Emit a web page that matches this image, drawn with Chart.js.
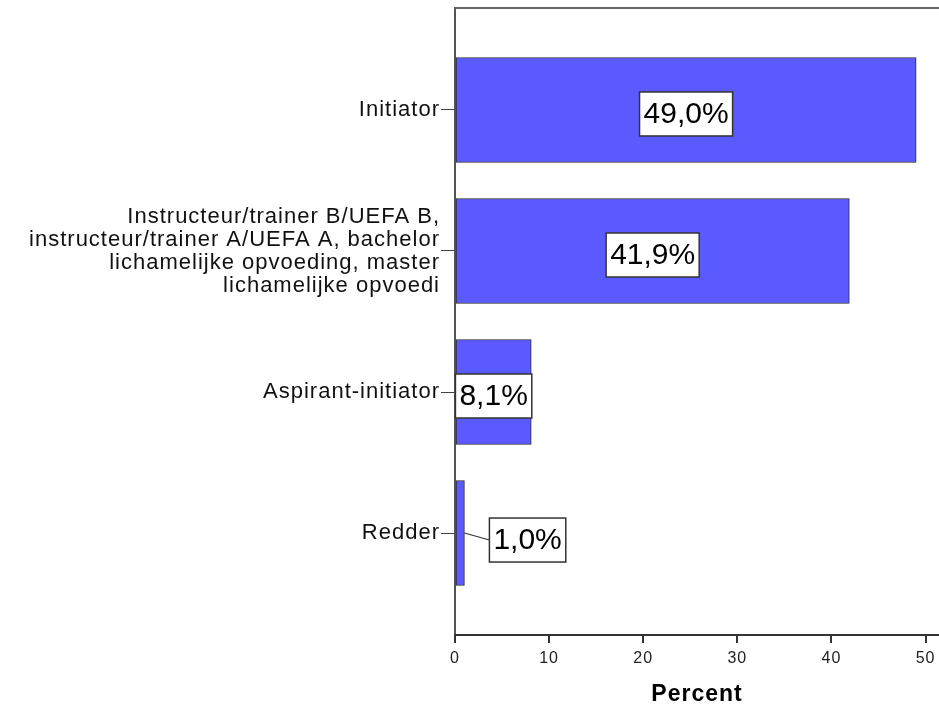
<!DOCTYPE html>
<html>
<head>
<meta charset="utf-8">
<script src="https://cdn.jsdelivr.net/npm/chart.js@4"></script>
<style>
  body { margin: 0; background: #fff; }
</style>
</head>
<body>
<canvas id="chart" width="939" height="705"></canvas>
<script>
// categories, top to bottom
const categories = [
  ["Initiator"],
  ["Instructeur/trainer B/UEFA B,", "instructeur/trainer A/UEFA A, bachelor", "lichamelijke opvoeding, master", "lichamelijke opvoedi"],
  ["Aspirant-initiator"],
  ["Redder"]
];
const percents = [49.0, 41.9, 8.1, 1.0];
const xTicks = [0, 10, 20, 30, 40, 50];

const FONT = "'Liberation Sans', Arial, sans-serif";

// SPSS text is a bit spaced out
const spacing = {
  id: "spacing",
  beforeDraw(chart) { chart.ctx.letterSpacing = "1px"; }
};

// white boxed value labels, like SPSS
const valueLabels = {
  id: "valueLabels",
  afterDatasetsDraw(chart) {
    const ctx = chart.ctx;
    const meta = chart.getDatasetMeta(0);
    ctx.save();
    ctx.letterSpacing = "0px";
    ctx.font = "30px " + FONT;
    ctx.textBaseline = "middle";
    ctx.textAlign = "center";
    meta.data.forEach((bar, i) => {
      const text = percents[i].toFixed(1).replace(".", ",") + "%";
      const w = ctx.measureText(text).width + 8;
      const h = 44;
      const barLen = bar.x - bar.base;
      let cx = (bar.x + bar.base) / 2;
      let cy = bar.y + 4;
      if (w > barLen + 4) {
        // does not fit: put it beside the bar with a leader line
        const left = bar.x + 25;
        cx = left + w / 2;
        cy = bar.y + 7;
        ctx.strokeStyle = "#333";
        ctx.lineWidth = 1.2;
        ctx.beginPath();
        ctx.moveTo(bar.x, bar.y);
        ctx.lineTo(left, cy);
        ctx.stroke();
      }
      ctx.fillStyle = "#fff";
      ctx.fillRect(cx - w / 2, cy - h / 2, w, h);
      ctx.strokeStyle = "#333";
      ctx.lineWidth = 1.5;
      ctx.strokeRect(cx - w / 2, cy - h / 2, w, h);
      ctx.fillStyle = "#000";
      ctx.fillText(text, cx, cy + 1);
    });
    ctx.restore();
  }
};

// top frame line
const frameTop = {
  id: "frameTop",
  afterDraw(chart) {
    const a = chart.chartArea;
    const ctx = chart.ctx;
    ctx.save();
    ctx.strokeStyle = "#666";
    ctx.lineWidth = 2;
    ctx.beginPath();
    ctx.moveTo(a.left, a.top);
    ctx.lineTo(chart.width, a.top);
    ctx.stroke();
    ctx.restore();
  }
};

new Chart(document.getElementById("chart").getContext("2d"), {
  type: "bar",
  data: {
    datasets: [{
      data: percents.map((v, i) => ({ x: v, y: i })),
      backgroundColor: "#5a5aff",
      borderColor: "#2a2a2a",
      borderWidth: 1,
      borderSkipped: false,
      barThickness: 105
    }]
  },
  options: {
    indexAxis: "y",
    responsive: false,
    animation: false,
    layout: { padding: { top: 8, bottom: 0, left: 0, right: 0 } },
    plugins: {
      legend: { display: false },
      tooltip: { enabled: false }
    },
    scales: {
      y: {
        type: "linear",
        reverse: true,
        offset: false,
        min: -0.723,
        max: 3.723,
        afterFit(scale) {
          scale.width = 455;
          scale.paddingTop = 0;
          scale.paddingBottom = 0;
        },
        border: { color: "#555", width: 2 },
        grid: { offset: false, drawOnChartArea: false, tickLength: 14, color: "#444", lineWidth: 1 },
        ticks: {
          stepSize: 1,
          includeBounds: false,
          autoSkip: false,
          padding: 1,
          color: "#111",
          font: { family: FONT, size: 22, lineHeight: 1.045 },
          callback: v => Number.isInteger(v) && categories[v] ? categories[v] : ""
        }
      },
      x: {
        type: "linear",
        min: 0,
        max: 51.43,
        afterFit(scale) {
          scale.height = 70;
          scale.paddingLeft = 0;
          scale.paddingRight = 0;
        },
        border: { color: "#333", width: 2 },
        grid: { drawOnChartArea: false, tickLength: 8, color: "#333", lineWidth: 2 },
        afterBuildTicks(scale) { scale.ticks = xTicks.map(v => ({ value: v })); },
        ticks: {
          padding: 6,
          color: "#222",
          font: { family: FONT, size: 16 }
        },
        title: {
          display: true,
          text: "Percent",
          color: "#000",
          font: { family: FONT, size: 23, weight: "bold", lineHeight: 0.8 },
          padding: { top: 0, bottom: 1 }
        }
      }
    }
  },
  plugins: [spacing, valueLabels, frameTop]
});
</script>
</body>
</html>
